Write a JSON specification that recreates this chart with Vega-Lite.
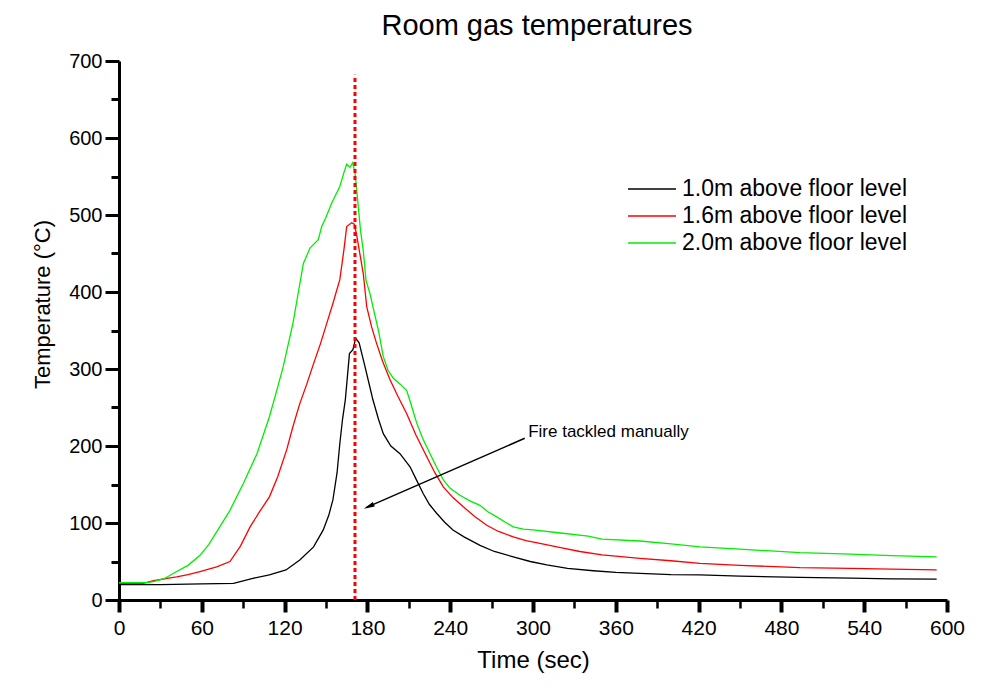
{
  "$schema": "https://vega.github.io/schema/vega-lite/v6.json",
  "width": 828,
  "height": 539,
  "autosize": {"type": "none"},
  "padding": {"left": 119, "top": 61, "right": 34, "bottom": 88},
  "background": "white",
  "config": {"view": {"stroke": null}, "font": "Liberation Sans"},
  "title": {"text": "Room gas temperatures", "fontSize": 29, "fontWeight": "normal", "color": "black", "anchor": "middle", "frame": "group", "baseline": "alphabetic", "offset": 23, "dy": 36, "dx": 4, "font": "Liberation Sans"},
  "datasets": {
    "temps": [
      {"series": "1.0m above floor level", "t": 0, "T": 20},
      {"series": "1.0m above floor level", "t": 30, "T": 20},
      {"series": "1.0m above floor level", "t": 60, "T": 21},
      {"series": "1.0m above floor level", "t": 83, "T": 21.6},
      {"series": "1.0m above floor level", "t": 97, "T": 28},
      {"series": "1.0m above floor level", "t": 109, "T": 32.5},
      {"series": "1.0m above floor level", "t": 121, "T": 39},
      {"series": "1.0m above floor level", "t": 131, "T": 52},
      {"series": "1.0m above floor level", "t": 141, "T": 69},
      {"series": "1.0m above floor level", "t": 148, "T": 91},
      {"series": "1.0m above floor level", "t": 152, "T": 110},
      {"series": "1.0m above floor level", "t": 155, "T": 130},
      {"series": "1.0m above floor level", "t": 158, "T": 165},
      {"series": "1.0m above floor level", "t": 160, "T": 203},
      {"series": "1.0m above floor level", "t": 162, "T": 235},
      {"series": "1.0m above floor level", "t": 164, "T": 260},
      {"series": "1.0m above floor level", "t": 167, "T": 320},
      {"series": "1.0m above floor level", "t": 169.5, "T": 325},
      {"series": "1.0m above floor level", "t": 171.5, "T": 340},
      {"series": "1.0m above floor level", "t": 174, "T": 334},
      {"series": "1.0m above floor level", "t": 178, "T": 305},
      {"series": "1.0m above floor level", "t": 182, "T": 275},
      {"series": "1.0m above floor level", "t": 184, "T": 260},
      {"series": "1.0m above floor level", "t": 188, "T": 235},
      {"series": "1.0m above floor level", "t": 191.5, "T": 216},
      {"series": "1.0m above floor level", "t": 197, "T": 200},
      {"series": "1.0m above floor level", "t": 203.6, "T": 190},
      {"series": "1.0m above floor level", "t": 210.9, "T": 173},
      {"series": "1.0m above floor level", "t": 215, "T": 158},
      {"series": "1.0m above floor level", "t": 220.5, "T": 138},
      {"series": "1.0m above floor level", "t": 225, "T": 124},
      {"series": "1.0m above floor level", "t": 230, "T": 113},
      {"series": "1.0m above floor level", "t": 236, "T": 101},
      {"series": "1.0m above floor level", "t": 242, "T": 91},
      {"series": "1.0m above floor level", "t": 250, "T": 82},
      {"series": "1.0m above floor level", "t": 261.6, "T": 71},
      {"series": "1.0m above floor level", "t": 272, "T": 63},
      {"series": "1.0m above floor level", "t": 285.7, "T": 56},
      {"series": "1.0m above floor level", "t": 298, "T": 50},
      {"series": "1.0m above floor level", "t": 310, "T": 45.5},
      {"series": "1.0m above floor level", "t": 325, "T": 41},
      {"series": "1.0m above floor level", "t": 343.7, "T": 38},
      {"series": "1.0m above floor level", "t": 360, "T": 36},
      {"series": "1.0m above floor level", "t": 377.5, "T": 34.6},
      {"series": "1.0m above floor level", "t": 400, "T": 33},
      {"series": "1.0m above floor level", "t": 421, "T": 32.5},
      {"series": "1.0m above floor level", "t": 450, "T": 31},
      {"series": "1.0m above floor level", "t": 493.5, "T": 29.5},
      {"series": "1.0m above floor level", "t": 530, "T": 28.5},
      {"series": "1.0m above floor level", "t": 560, "T": 27.5},
      {"series": "1.0m above floor level", "t": 592.5, "T": 27},

      {"series": "1.6m above floor level", "t": 0, "T": 21.5},
      {"series": "1.6m above floor level", "t": 17.6, "T": 21.5},
      {"series": "1.6m above floor level", "t": 25, "T": 25},
      {"series": "1.6m above floor level", "t": 35, "T": 28},
      {"series": "1.6m above floor level", "t": 41.8, "T": 30},
      {"series": "1.6m above floor level", "t": 50, "T": 33},
      {"series": "1.6m above floor level", "t": 58.7, "T": 37},
      {"series": "1.6m above floor level", "t": 65, "T": 40},
      {"series": "1.6m above floor level", "t": 70.8, "T": 43},
      {"series": "1.6m above floor level", "t": 80.4, "T": 50},
      {"series": "1.6m above floor level", "t": 88, "T": 70},
      {"series": "1.6m above floor level", "t": 95, "T": 95},
      {"series": "1.6m above floor level", "t": 102, "T": 115},
      {"series": "1.6m above floor level", "t": 109, "T": 134},
      {"series": "1.6m above floor level", "t": 115, "T": 160},
      {"series": "1.6m above floor level", "t": 121.5, "T": 195},
      {"series": "1.6m above floor level", "t": 126, "T": 225},
      {"series": "1.6m above floor level", "t": 131, "T": 255},
      {"series": "1.6m above floor level", "t": 136, "T": 280},
      {"series": "1.6m above floor level", "t": 141, "T": 307},
      {"series": "1.6m above floor level", "t": 146, "T": 333},
      {"series": "1.6m above floor level", "t": 150.5, "T": 359},
      {"series": "1.6m above floor level", "t": 155, "T": 385},
      {"series": "1.6m above floor level", "t": 160, "T": 416},
      {"series": "1.6m above floor level", "t": 163, "T": 455},
      {"series": "1.6m above floor level", "t": 165, "T": 485},
      {"series": "1.6m above floor level", "t": 168.6, "T": 490},
      {"series": "1.6m above floor level", "t": 170.5, "T": 488},
      {"series": "1.6m above floor level", "t": 172, "T": 476},
      {"series": "1.6m above floor level", "t": 177, "T": 424},
      {"series": "1.6m above floor level", "t": 179.5, "T": 381},
      {"series": "1.6m above floor level", "t": 183, "T": 355},
      {"series": "1.6m above floor level", "t": 186.7, "T": 333},
      {"series": "1.6m above floor level", "t": 191, "T": 310},
      {"series": "1.6m above floor level", "t": 196.4, "T": 286},
      {"series": "1.6m above floor level", "t": 202, "T": 265},
      {"series": "1.6m above floor level", "t": 208.5, "T": 242},
      {"series": "1.6m above floor level", "t": 215, "T": 215},
      {"series": "1.6m above floor level", "t": 223, "T": 186},
      {"series": "1.6m above floor level", "t": 229, "T": 165},
      {"series": "1.6m above floor level", "t": 235, "T": 147},
      {"series": "1.6m above floor level", "t": 242, "T": 133},
      {"series": "1.6m above floor level", "t": 249.5, "T": 121},
      {"series": "1.6m above floor level", "t": 258, "T": 108},
      {"series": "1.6m above floor level", "t": 266.5, "T": 97},
      {"series": "1.6m above floor level", "t": 275, "T": 89},
      {"series": "1.6m above floor level", "t": 285.7, "T": 82},
      {"series": "1.6m above floor level", "t": 295, "T": 77},
      {"series": "1.6m above floor level", "t": 305, "T": 73.6},
      {"series": "1.6m above floor level", "t": 320, "T": 68},
      {"series": "1.6m above floor level", "t": 334, "T": 63},
      {"series": "1.6m above floor level", "t": 350, "T": 58.5},
      {"series": "1.6m above floor level", "t": 377.5, "T": 54},
      {"series": "1.6m above floor level", "t": 400, "T": 51},
      {"series": "1.6m above floor level", "t": 421, "T": 47.6},
      {"series": "1.6m above floor level", "t": 450, "T": 45},
      {"series": "1.6m above floor level", "t": 493.5, "T": 42},
      {"series": "1.6m above floor level", "t": 530, "T": 41},
      {"series": "1.6m above floor level", "t": 560, "T": 40},
      {"series": "1.6m above floor level", "t": 592.5, "T": 39},

      {"series": "2.0m above floor level", "t": 0, "T": 22.5},
      {"series": "2.0m above floor level", "t": 20, "T": 22.5},
      {"series": "2.0m above floor level", "t": 25, "T": 24},
      {"series": "2.0m above floor level", "t": 33, "T": 28},
      {"series": "2.0m above floor level", "t": 41.8, "T": 37},
      {"series": "2.0m above floor level", "t": 50, "T": 45},
      {"series": "2.0m above floor level", "t": 58.7, "T": 58},
      {"series": "2.0m above floor level", "t": 65, "T": 72},
      {"series": "2.0m above floor level", "t": 73, "T": 95},
      {"series": "2.0m above floor level", "t": 80, "T": 115},
      {"series": "2.0m above floor level", "t": 90, "T": 151},
      {"series": "2.0m above floor level", "t": 100, "T": 190},
      {"series": "2.0m above floor level", "t": 109, "T": 238},
      {"series": "2.0m above floor level", "t": 114, "T": 270},
      {"series": "2.0m above floor level", "t": 119, "T": 303},
      {"series": "2.0m above floor level", "t": 126, "T": 359},
      {"series": "2.0m above floor level", "t": 130, "T": 400},
      {"series": "2.0m above floor level", "t": 133.6, "T": 437},
      {"series": "2.0m above floor level", "t": 138.4, "T": 457},
      {"series": "2.0m above floor level", "t": 144.4, "T": 468},
      {"series": "2.0m above floor level", "t": 146.9, "T": 485},
      {"series": "2.0m above floor level", "t": 150, "T": 497},
      {"series": "2.0m above floor level", "t": 154, "T": 515},
      {"series": "2.0m above floor level", "t": 160, "T": 537},
      {"series": "2.0m above floor level", "t": 163, "T": 555},
      {"series": "2.0m above floor level", "t": 165, "T": 566},
      {"series": "2.0m above floor level", "t": 167.4, "T": 562},
      {"series": "2.0m above floor level", "t": 169.3, "T": 568},
      {"series": "2.0m above floor level", "t": 171, "T": 555},
      {"series": "2.0m above floor level", "t": 172.5, "T": 528},
      {"series": "2.0m above floor level", "t": 175, "T": 480},
      {"series": "2.0m above floor level", "t": 177, "T": 454},
      {"series": "2.0m above floor level", "t": 179, "T": 415},
      {"series": "2.0m above floor level", "t": 182, "T": 397},
      {"series": "2.0m above floor level", "t": 184, "T": 381},
      {"series": "2.0m above floor level", "t": 188, "T": 350},
      {"series": "2.0m above floor level", "t": 191.5, "T": 316},
      {"series": "2.0m above floor level", "t": 195, "T": 298},
      {"series": "2.0m above floor level", "t": 198.8, "T": 288},
      {"series": "2.0m above floor level", "t": 204, "T": 280},
      {"series": "2.0m above floor level", "t": 208.5, "T": 272},
      {"series": "2.0m above floor level", "t": 212, "T": 252},
      {"series": "2.0m above floor level", "t": 215.7, "T": 230},
      {"series": "2.0m above floor level", "t": 220, "T": 210},
      {"series": "2.0m above floor level", "t": 225.4, "T": 190},
      {"series": "2.0m above floor level", "t": 230, "T": 173},
      {"series": "2.0m above floor level", "t": 235, "T": 156},
      {"series": "2.0m above floor level", "t": 240, "T": 145},
      {"series": "2.0m above floor level", "t": 247, "T": 136},
      {"series": "2.0m above floor level", "t": 255, "T": 128},
      {"series": "2.0m above floor level", "t": 261.6, "T": 123},
      {"series": "2.0m above floor level", "t": 267, "T": 115},
      {"series": "2.0m above floor level", "t": 273.7, "T": 108},
      {"series": "2.0m above floor level", "t": 280, "T": 101},
      {"series": "2.0m above floor level", "t": 285.7, "T": 95},
      {"series": "2.0m above floor level", "t": 293, "T": 92},
      {"series": "2.0m above floor level", "t": 300, "T": 91},
      {"series": "2.0m above floor level", "t": 320, "T": 87},
      {"series": "2.0m above floor level", "t": 340, "T": 83},
      {"series": "2.0m above floor level", "t": 350, "T": 79},
      {"series": "2.0m above floor level", "t": 377.5, "T": 76.6},
      {"series": "2.0m above floor level", "t": 400, "T": 73},
      {"series": "2.0m above floor level", "t": 421, "T": 69},
      {"series": "2.0m above floor level", "t": 450, "T": 66},
      {"series": "2.0m above floor level", "t": 493.5, "T": 61.5},
      {"series": "2.0m above floor level", "t": 530, "T": 59.5},
      {"series": "2.0m above floor level", "t": 560, "T": 57.5},
      {"series": "2.0m above floor level", "t": 592.5, "T": 56}
    ],
    "fire": [{"t": 171, "T0": 0, "T1": 682}],
    "arrow": [{"t0": 294, "T0": 210, "t1": 179, "T1": 120}],
    "head": [{"t": 181, "T": 121.5}],
    "note": [{"t": 296.5, "T": 218, "label": "Fire tackled manually"}]
  },
  "resolve": {"axis": {"x": "independent", "y": "independent"}},
  "layer": [
    {
      "data": {"name": "temps"},
      "mark": {"type": "line", "strokeWidth": 1.3, "interpolate": "linear"},
      "encoding": {
        "x": {"field": "t", "type": "quantitative",
          "scale": {"domain": [0, 600], "nice": false, "zero": false},
          "axis": {"orient": "bottom", "values": [0, 60, 120, 180, 240, 300, 360, 420, 480, 540, 600], "grid": false,
            "tickSize": 12, "tickWidth": 4, "tickColor": "black", "domainColor": "black", "domainWidth": 3,
            "labelFontSize": 21, "labelPadding": 5, "labelColor": "black", "labelFlush": false, "labelOverlap": false, "labelFont": "Liberation Sans",
            "title": "Time (sec)", "titleFontSize": 24, "titleFontWeight": "normal", "titleColor": "black", "titlePadding": 10, "titleFont": "Liberation Sans"}},
        "y": {"field": "T", "type": "quantitative",
          "scale": {"domain": [0, 700], "nice": false, "zero": true},
          "axis": {"orient": "left", "values": [0, 100, 200, 300, 400, 500, 600, 700], "grid": false,
            "tickSize": 14, "tickWidth": 3, "tickColor": "black", "domainColor": "black", "domainWidth": 3,
            "labelFontSize": 20, "labelPadding": 3, "labelColor": "black", "labelFlush": false, "labelOverlap": false, "labelFont": "Liberation Sans",
            "title": "Temperature (°C)", "titleFontSize": 22, "titleFontWeight": "normal", "titleColor": "black", "titleFont": "Liberation Sans",
            "titleAngle": -90, "titleAlign": "center", "titleBaseline": "middle", "titleX": -77, "titleY": 243}},
        "color": {"field": "series", "type": "nominal",
          "scale": {"domain": ["1.0m above floor level", "1.6m above floor level", "2.0m above floor level"], "range": ["#000000", "#ff0000", "#00ee00"]},
          "legend": {"orient": "none", "legendX": 520, "legendY": 115, "title": null, "padding": 0,
            "symbolType": "M-2,0H2", "symbolSize": 576, "symbolStrokeWidth": 1.6, "labelFontSize": 23, "labelColor": "black", "labelFont": "Liberation Sans",
            "labelOffset": 17, "labelLimit": 400, "rowPadding": 2}}
      }
    },
    {
      "data": {"name": "fire"},
      "mark": {"type": "rule", "color": "#ff0000", "strokeWidth": 3, "strokeDash": [4, 3]},
      "encoding": {
        "x": {"field": "t", "type": "quantitative", "scale": {"domain": [0, 600], "nice": false, "zero": false},
          "axis": {"orient": "bottom", "values": [30, 90, 150, 210, 270, 330, 390, 450, 510, 570], "grid": false, "labels": false, "domain": false, "title": null,
            "tickSize": 8, "tickWidth": 2.5, "tickColor": "black"}},
        "y": {"field": "T0", "type": "quantitative", "scale": {"domain": [0, 700], "nice": false},
          "axis": {"orient": "left", "values": [50, 150, 250, 350, 450, 550, 650], "grid": false, "labels": false, "domain": false, "title": null,
            "tickSize": 8, "tickWidth": 3, "tickColor": "black"}},
        "y2": {"field": "T1"}
      }
    },
    {
      "data": {"name": "arrow"},
      "mark": {"type": "rule", "color": "black", "strokeWidth": 1.5},
      "encoding": {
        "x": {"field": "t0", "type": "quantitative", "scale": {"domain": [0, 600], "nice": false, "zero": false}, "axis": null},
        "y": {"field": "T0", "type": "quantitative", "scale": {"domain": [0, 700], "nice": false}, "axis": null},
        "x2": {"field": "t1"},
        "y2": {"field": "T1"}
      }
    },
    {
      "data": {"name": "head"},
      "mark": {"type": "point", "shape": "M0,-1L0.45,1L-0.45,1Z", "filled": true, "color": "black", "opacity": 1, "size": 120, "angle": 246},
      "encoding": {
        "x": {"field": "t", "type": "quantitative", "scale": {"domain": [0, 600], "nice": false, "zero": false}, "axis": null},
        "y": {"field": "T", "type": "quantitative", "scale": {"domain": [0, 700], "nice": false}, "axis": null}
      }
    },
    {
      "data": {"name": "note"},
      "mark": {"type": "text", "align": "left", "baseline": "middle", "fontSize": 17, "font": "Liberation Sans", "color": "black"},
      "encoding": {
        "x": {"field": "t", "type": "quantitative", "scale": {"domain": [0, 600], "nice": false, "zero": false}, "axis": null},
        "y": {"field": "T", "type": "quantitative", "scale": {"domain": [0, 700], "nice": false}, "axis": null},
        "text": {"field": "label"}
      }
    }
  ]
}
